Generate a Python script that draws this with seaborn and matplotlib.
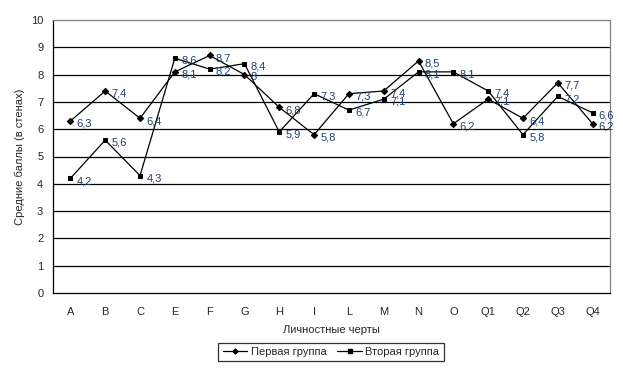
import pandas as pd
import matplotlib
matplotlib.use("Agg")
import matplotlib.pyplot as plt
import seaborn as sns

# Data
traits = ["A", "B", "C", "E", "F", "G", "H", "I", "L", "M", "N", "O", "Q1", "Q2", "Q3", "Q4"]
group1 = [6.3, 7.4, 6.4, 8.1, 8.7, 8.0, 6.8, 5.8, 7.3, 7.4, 8.5, 6.2, 7.1, 6.4, 7.7, 6.2]
group2 = [4.2, 5.6, 4.3, 8.6, 8.2, 8.4, 5.9, 7.3, 6.7, 7.1, 8.1, 8.1, 7.4, 5.8, 7.2, 6.6]
names = ["Первая группа", "Вторая группа"]

df = pd.DataFrame({
    "pos": list(range(len(traits))) * 2,
    "value": group1 + group2,
    "group": [names[0]] * len(traits) + [names[1]] * len(traits),
})

sns.set_style("white")
plt.rcParams["font.family"] = ["Liberation Sans", "DejaVu Sans"]
plt.rcParams["font.size"] = 8

fig = plt.figure(figsize=(6.23, 3.69), dpi=100)
ax = fig.add_axes([53 / 623, 1 - 293 / 369, 557 / 623, 273 / 369])

sns.lineplot(data=df, x="pos", y="value", style="group", markers={names[0]: "D", names[1]: "s"},
             dashes=False, color="black", linewidth=0.9, markersize=3.2, sort=False,
             markeredgecolor="black", ax=ax, legend=False)

# data labels
label_color = "#1f3f6f"
for vals in (group1, group2):
    for i, v in enumerate(vals):
        txt = ("%.1f" % v).replace(".", ",")
        if txt.endswith(",0"):
            txt = txt[:-2]
        ax.annotate(txt, (i, v), xytext=(4.5, -2), textcoords="offset points",
                    ha="left", va="center", fontsize=8, color=label_color)

# axes
ax.set_xlim(-0.5, len(traits) - 0.5)
ax.set_ylim(0, 10)
ax.set_yticks(range(0, 11))
ax.set_xticks(range(len(traits)))
ax.set_xticklabels(traits)
ax.set_xticks([i + 0.5 for i in range(-1, len(traits))], minor=True)
ax.tick_params(axis="x", which="major", length=0, pad=10)
ax.tick_params(axis="x", which="minor", length=4, width=0.8, direction="out", color="black")
ax.tick_params(axis="y", length=4, width=0.8, direction="out", color="black", pad=3)
for y in range(1, 10):
    ax.axhline(y, color="black", linewidth=0.9, zorder=0)
ax.spines["left"].set_color("black")
ax.spines["bottom"].set_color("black")
ax.spines["top"].set_color("#808080")
ax.spines["right"].set_color("#808080")
for s in ax.spines.values():
    s.set_linewidth(0.9)

ax.set_xlabel("Личностные черты", fontsize=8, labelpad=6)
ax.set_ylabel("Средние баллы (в стенах)", fontsize=8, labelpad=4)

# legend
h1, = ax.plot([], [], color="black", marker="D", markersize=2.5, linewidth=0.9)
h2, = ax.plot([], [], color="black", marker="s", markersize=3.5, linewidth=0.9)
leg = fig.legend([h1, h2], names, loc="center", bbox_to_anchor=(331 / 623, 1 - 352 / 369),
                 ncol=2, frameon=True, fancybox=False, edgecolor="black", fontsize=8,
                 handlelength=2.2, handletextpad=0.3, columnspacing=1.0, borderpad=0.4)
leg.get_frame().set_linewidth(0.9)

fig.savefig("out.png", dpi=100)
